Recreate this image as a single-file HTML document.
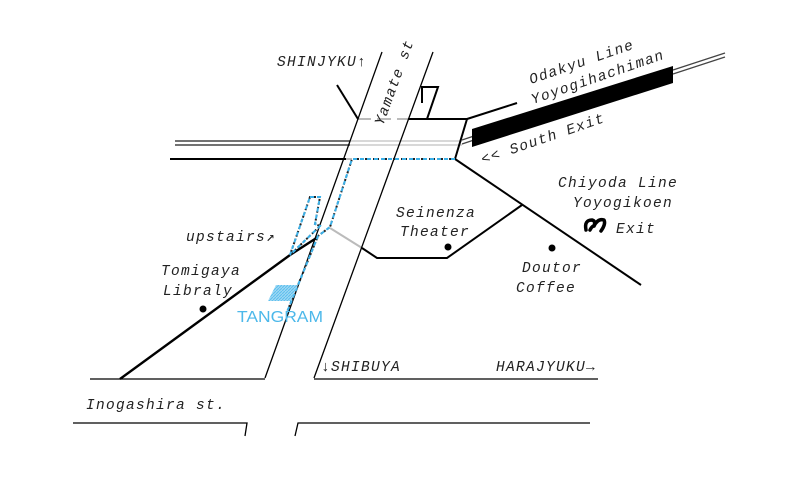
<!DOCTYPE html>
<html><head><meta charset="utf-8"><style>
html,body{margin:0;padding:0;background:#fff;}
svg{display:block;}
text{font-family:"Liberation Mono",monospace;font-style:italic;font-size:14.5px;letter-spacing:1.3px;fill:#222;}
</style></head><body>
<svg width="800" height="489" viewBox="0 0 800 489" xmlns="http://www.w3.org/2000/svg">
<defs>
<pattern id="h" width="3" height="3" patternUnits="userSpaceOnUse"><rect width="3" height="3" fill="#9fd8f4"/><path d="M0 3L3 0" stroke="#5bbfee" stroke-width="1"/></pattern>
</defs>
<g fill="none" stroke-linecap="butt">
<line x1="175" y1="141" x2="350" y2="141" stroke="#444" stroke-width="1.5"/>
<line x1="175" y1="145" x2="350" y2="145" stroke="#444" stroke-width="1.5"/>
<line x1="350" y1="141" x2="462" y2="141" stroke="#ccc" stroke-width="1.5"/>
<line x1="350" y1="145" x2="462" y2="145" stroke="#ccc" stroke-width="1.5"/>
<line x1="462" y1="140" x2="474" y2="136" stroke="#444" stroke-width="1.2"/>
<line x1="462" y1="144" x2="474" y2="140" stroke="#444" stroke-width="1.2"/>
<line x1="673" y1="70" x2="725" y2="53" stroke="#444" stroke-width="1.2"/>
<line x1="673" y1="74" x2="725" y2="57" stroke="#444" stroke-width="1.2"/>
<polygon points="472,129 673,66 673,83 472,147" fill="#000"/>
<line x1="170" y1="159" x2="346" y2="159" stroke="#000" stroke-width="2"/>
<line x1="346" y1="159" x2="352" y2="159" stroke="#bbb" stroke-width="2"/>
<line x1="357" y1="119" x2="408" y2="119" stroke="#bbb" stroke-width="2" stroke-dasharray="14,6"/>
<polyline points="408,119 467,119 455,159" stroke="#000" stroke-width="2"/>
<polyline points="422,103 422,87 438,87 427,119" stroke="#000" stroke-width="2"/>
<line x1="467" y1="119" x2="517" y2="103" stroke="#000" stroke-width="2"/>
<line x1="337" y1="85" x2="358" y2="119" stroke="#000" stroke-width="2"/>
<line x1="455" y1="159" x2="641" y2="285" stroke="#000" stroke-width="2"/>
<polyline points="522,205 447,258 377,258 362,248" stroke="#000" stroke-width="2"/>
<line x1="330" y1="228" x2="362" y2="248" stroke="#bbb" stroke-width="2"/>
<line x1="382" y1="52" x2="265" y2="378" stroke="#000" stroke-width="1.3"/>
<line x1="433" y1="52" x2="314" y2="378" stroke="#000" stroke-width="1.3"/>
<polyline points="90,379 265,379" stroke="#000" stroke-width="1.3"/>
<polyline points="314,379 598,379" stroke="#000" stroke-width="1.3"/>
<polyline points="73,423 247,423 245,436" stroke="#000" stroke-width="1.3"/>
<polyline points="295,436 298,423 590,423" stroke="#000" stroke-width="1.3"/>
<polyline points="120,379 290,255 318,237" stroke="#000" stroke-width="2.4"/>
<polyline points="455,159 352,159 330,227 318,236 287,312" stroke="#222" stroke-width="2" stroke-dasharray="2,2"/>
<polyline points="455,159 352,159 330,227 318,236 287,312" stroke="#3bb0e8" stroke-width="2" stroke-dasharray="4,3"/>
<polygon points="310,197 320,197 315,224 320,226 290,255" stroke="#222" stroke-width="2" stroke-dasharray="2,2"/>
<polygon points="310,197 320,197 315,224 320,226 290,255" stroke="#3bb0e8" stroke-width="2" stroke-dasharray="4,3"/>
</g>
<polygon points="276,285 298,285 291,301 268,301" fill="url(#h)"/>
<circle cx="203" cy="309" r="3.5" fill="#000"/>
<circle cx="448" cy="247" r="3.5" fill="#000"/>
<circle cx="552" cy="248" r="3.5" fill="#000"/>
<g fill="none" stroke="#000" stroke-width="3.5" stroke-linecap="round" stroke-linejoin="round">
<path d="M586 230 Q584 220 592 220 Q596 221 594 226 Q598 218 604 220 Q606 224 601 231"/>
<path d="M590 230 Q592 226 594 226"/>
</g>
<text x="277" y="66">SHINJYKU↑</text>
<text transform="translate(383,126) rotate(-70)">Yamate st</text>
<text x="186" y="241">upstairs↗</text>
<text x="161" y="275">Tomigaya</text>
<text x="163" y="295">Libraly</text>
<text x="396" y="217">Seinenza</text>
<text x="400" y="236">Theater</text>
<text x="522" y="272">Doutor</text>
<text x="516" y="292">Coffee</text>
<text x="558" y="187">Chiyoda Line</text>
<text x="573" y="207">Yoyogikoen</text>
<text x="616" y="233">Exit</text>
<text transform="translate(531,84) rotate(-19)">Odakyu Line</text>
<text transform="translate(533,104) rotate(-19)">Yoyogihachiman</text>
<text transform="translate(483,164) rotate(-19)">&lt;&lt; South Exit</text>
<text x="321" y="371">↓SHIBUYA</text>
<text x="496" y="371">HARAJYUKU→</text>
<text x="86" y="409">Inogashira st.</text>
<text x="237" y="322" textLength="86" lengthAdjust="spacingAndGlyphs" style="font-style:normal;font-size:16px;fill:#4cb8ea;letter-spacing:0;font-family:'Liberation Sans',sans-serif;">TANGRAM</text>
</svg>
</body></html>
